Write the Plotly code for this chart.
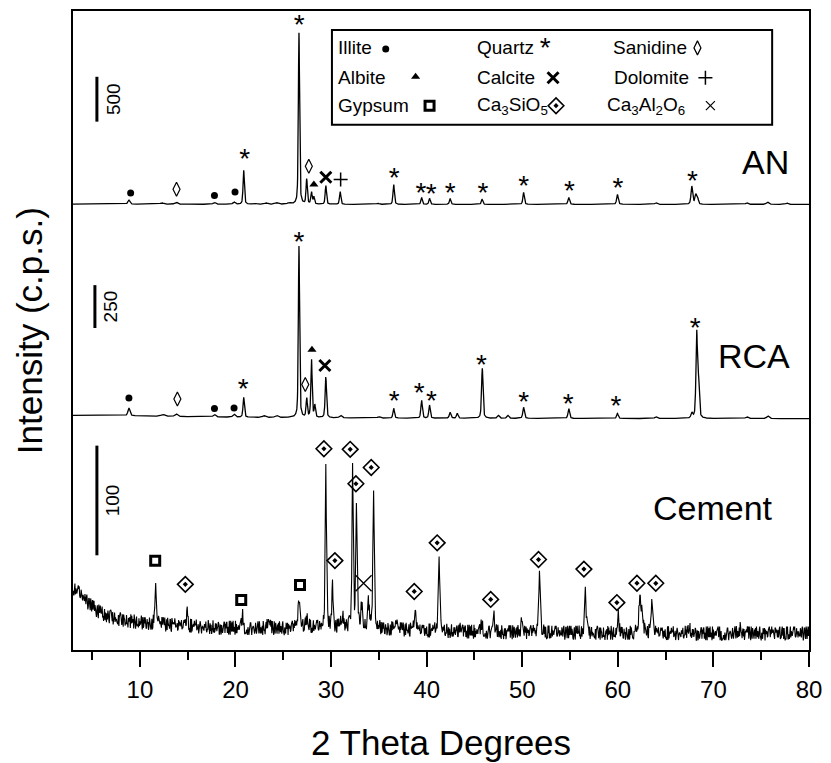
import numpy as np
import plotly.graph_objects as go

# ======================= DATA =======================
x_tick_values = [10, 20, 30, 40, 50, 60, 70, 80]
sample_names = ["AN", "RCA", "Cement"]
scale_bar_cps = [500, 250, 100]

# --- AN pattern: peak positions (deg 2theta), heights (c.p.s.), widths (deg)
an_peak_2theta = [8.85, 12.3, 13.8, 17.8, 19.85, 20.86, 22.0, 23.2, 24.3, 25.6, 26.64, 27.45, 27.95, 28.2,
                  29.45, 30.95, 34.9, 36.55, 39.47, 40.3, 42.45, 45.8, 50.14, 54.87, 59.96, 64.0, 67.74,
                  68.14, 68.32, 73.5, 75.66, 77.7]
an_peak_cps = [45, 15, 22, 20, 25, 378, 12, 15, 18, 14, 1911, 280, 133, 80,
               211, 144, 12, 222, 78, 67, 67, 56, 133, 78, 111, 18, 200,
               100, 80, 18, 25, 15]
an_peak_fwhm = [0.25, 0.4, 0.35, 0.3, 0.3, 0.16, 0.4, 0.4, 0.4, 0.4, 0.15, 0.16, 0.16, 0.16,
                0.16, 0.16, 0.3, 0.17, 0.17, 0.17, 0.17, 0.18, 0.18, 0.2, 0.2, 0.3, 0.2,
                0.2, 0.2, 0.3, 0.3, 0.3]
an_bg_2theta, an_bg_cps, an_bg_fwhm = [3.0], [4], [20]

# --- RCA pattern
rca_peak_2theta = [8.85, 12.4, 13.8, 17.8, 19.85, 20.86, 23.0, 24.3, 26.64, 27.45, 27.95, 28.3, 29.45,
                   31.0, 35.0, 36.55, 39.47, 40.3, 42.45, 43.2, 45.82, 47.5, 48.5, 50.14, 54.87, 59.96,
                   64.0, 67.74, 68.25, 68.45, 73.5, 75.7]
rca_peak_cps = [45, 10, 15, 14, 18, 116, 10, 12, 1000, 110, 340, 70, 240,
                15, 8, 58, 105, 76, 35, 29, 292, 17, 17, 64, 58, 29,
                10, 30, 500, 200, 10, 15]
rca_peak_fwhm = [0.25, 0.4, 0.35, 0.3, 0.3, 0.17, 0.4, 0.4, 0.15, 0.16, 0.16, 0.16, 0.17,
                 0.3, 0.3, 0.18, 0.18, 0.18, 0.2, 0.2, 0.18, 0.25, 0.25, 0.2, 0.2, 0.2,
                 0.3, 0.2, 0.18, 0.18, 0.3, 0.3]
rca_bg_2theta, rca_bg_cps, rca_bg_fwhm = [3.0], [20], [30]

# --- Cement pattern
cem_peak_2theta = [11.65, 14.95, 20.75, 23.4, 26.65, 27.5, 29.45, 30.15, 31.2, 32.25, 32.65, 33.2, 33.9,
                   34.45, 36.7, 38.8, 41.3, 43.5, 45.8, 47.0, 50.0, 51.8, 56.6, 60.05, 62.3, 62.55,
                   63.6, 67.4, 72.8]
cem_peak_cps = [42, 17, 11, 7, 22, 8, 148, 36, 10, 148, 115, 20, 24,
                124, 8, 19, 66, 6, 10, 18, 15, 53, 40, 15, 28, 15,
                28, 6, 4]
cem_peak_fwhm = [0.15, 0.15, 0.2, 0.3, 0.3, 0.3, 0.15, 0.15, 0.3, 0.15, 0.15, 0.2, 0.2,
                 0.18, 0.3, 0.2, 0.2, 0.3, 0.2, 0.2, 0.2, 0.18, 0.2, 0.2, 0.25, 0.25,
                 0.25, 0.3, 0.4]
cem_bg_2theta, cem_bg_cps, cem_bg_fwhm = [3.0, 3.0, 32.0], [30, 10, 4], [4, 30, 12]
# counting-noise texture of the cement scan, typed as digits 0-9
cem_noise_digits = (
    "1415926535897932384626433832795028841971693993751058209749445923078164062862"
    "0899862803482534211706798214808651328230664709384460955058223172535940812848"
    "1117450284102701938521105559644622948954930381964428810975665933446128475648"
    "2337867831652712019091456485669234603486104543266482133936072602491412737245"
    "8700660631558817488152092096282925409171536436789259036001133053054882046652"
    "1384146951941511609433057270365759591953092186117381932611793105118548074462"
    "3799627495673518857527248912279381830119491"
)
cem_noise_cps_per_digit = 1.4

# --- phase markers: (phase, peak 2theta)
an_marker_phase = ["illite", "sanidine", "illite", "illite", "quartz", "quartz", "sanidine", "albite",
                   "calcite", "dolomite", "quartz", "quartz", "quartz", "quartz", "quartz", "quartz",
                   "quartz", "quartz", "quartz"]
an_marker_2theta = [8.85, 13.8, 17.8, 19.85, 20.86, 26.64, 27.45, 27.95, 29.45, 30.95, 36.55, 39.47,
                    40.3, 42.45, 45.8, 50.14, 54.87, 59.96, 67.74]
rca_marker_phase = ["illite", "sanidine", "illite", "illite", "quartz", "quartz", "sanidine", "albite",
                    "calcite", "quartz", "quartz", "quartz", "quartz", "quartz", "quartz", "quartz",
                    "quartz"]
rca_marker_2theta = [8.85, 13.8, 17.8, 19.85, 20.86, 26.64, 27.45, 27.95, 29.45, 36.55, 39.47, 40.3,
                     45.82, 50.14, 54.87, 59.96, 68.25]
cem_marker_phase = ["gypsum", "c3s", "gypsum", "gypsum", "c3s", "c3s", "c3s", "c3s", "c3a", "c3s",
                    "c3s", "c3s", "c3s", "c3s", "c3s", "c3s", "c3s", "c3s"]
cem_marker_2theta = [11.65, 14.95, 20.75, 26.65, 29.45, 30.15, 32.25, 32.65, 33.2, 34.45, 38.8, 41.3,
                     47.0, 51.8, 56.6, 60.05, 62.3, 63.6]

# --- legend of phases
legend_phase = ["illite", "quartz", "sanidine", "albite", "calcite", "dolomite", "gypsum", "c3s", "c3a"]
legend_label = ["Illite", "Quartz", "Sanidine", "Albite", "Calcite", "Dolomite", "Gypsum",
                "Ca<sub>3</sub>SiO<sub>5</sub>", "Ca<sub>3</sub>Al<sub>2</sub>O<sub>6</sub>"]

# ======================= LAYOUT / STYLE =======================
FONT = "Liberation Sans, Arial, sans-serif"
W, H = 831, 763
PL, PR, PT, PB = 73, 812, 9, 650          # plot-area pixel box
X0, X1 = 3, 80
PXD = (PR - PL) / (X1 - X0)               # px per degree


def px2x(px):
    return X0 + (px - PL) / PXD


def py2y(py):
    return PB - py                        # y axis unit = 1 px


def pxp(px):
    return (px - PL) / (PR - PL)


def pyp(py):
    return (PB - py) / (PB - PT)


# vertical placement: baseline pixel and px per c.p.s. of each pattern
an_base_px, an_ppc = 203, 45 / 500
rca_base_px, rca_ppc = 418, 43 / 250
cem_base_px, cem_ppc = 634, 110 / 100

# marker placement offsets (dx in deg, gap in px above local peak top)
an_marker_dx = [0.18, 0.03, 0, 0.1, 0.1, 0.03, 0.22, 0.25, 0, 0.05, 0.05, -0.08, 0.18, 0, 0.1, 0, 0.08, 0.04, 0.06]
an_marker_gap = [7, 13, 7, 10, 15, 12, 12, 7, 8, 12, 10, 8, 8, 9, 10, 10, 10, 10, 9]
rca_marker_dx = [0, 0.12, 0, 0, -0.05, 0, -0.15, 0.05, -0.1, 0.05, -0.25, 0.2, -0.1, 0, -0.05, -0.15, -0.15]
rca_marker_gap = [10, 15, 6, 6, 12, 8, 13, 9, 11, 11, 11, 8, 7, 9, 9, 12, 5]
cem_marker_dx = [-0.05, -0.2, -0.15, 0.1, -0.2, 0.25, -0.25, -0.05, 0.2, -0.25, -0.1, -0.2, -0.3, -0.1,
                 -0.15, -0.15, -0.3, 0.37]
cem_marker_gap = [17, 23, 16, 19, 16, 26, 13, 14, 20, 24, 18, 16, 13, 15, 20, 14, 17, 19]

STAR_SHIFT = 6   # text "*" glyph sits above the text anchor point

phase_style = {
    "illite": dict(symbol="circle", size=7, line=dict(width=0)),
    "sanidine": dict(symbol="diamond-tall-open", size=10, line=dict(width=1.2, color="black")),
    "albite": dict(symbol="triangle-up", size=8, line=dict(width=0)),
    "calcite": dict(symbol="x-thin-open", size=11, line=dict(width=3, color="black")),
    "dolomite": dict(symbol="cross-thin-open", size=10, line=dict(width=1.5, color="black")),
    "gypsum": dict(symbol="square-open", size=9, line=dict(width=3, color="black")),
    "c3s": dict(symbol="diamond-open", size=12, line=dict(width=1.6, color="black")),
    "c3a": dict(symbol="x-thin-open", size=16, line=dict(width=1.3, color="black")),
}


def profile(x, pos, cps, fwhm, eta=0.5):
    x = np.asarray(x, dtype=float)
    y = np.zeros_like(x)
    for p, h, f in zip(pos, cps, fwhm):
        u = (x - p) / (f / 2.0)
        y += h * (eta / (1 + u ** 2) + (1 - eta) * np.exp(-np.log(2) * u ** 2))
    return y


def counts(x, pk, bg):
    return profile(x, *pk) + profile(x, *bg, eta=1.0)


an_pk = (an_peak_2theta, an_peak_cps, an_peak_fwhm)
an_bg = (an_bg_2theta, an_bg_cps, an_bg_fwhm)
rca_pk = (rca_peak_2theta, rca_peak_cps, rca_peak_fwhm)
rca_bg = (rca_bg_2theta, rca_bg_cps, rca_bg_fwhm)
cem_pk = (cem_peak_2theta, cem_peak_cps, cem_peak_fwhm)
cem_bg = (cem_bg_2theta, cem_bg_cps, cem_bg_fwhm)

xf = np.arange(X0, X1 + 1e-9, 0.02)
xc = np.arange(X0, X1 + 1e-9, 0.05)
digits = np.array([int(c) for c in cem_noise_digits])
cem_noise = (digits[np.arange(len(xc)) % len(digits)] - 4.5) * cem_noise_cps_per_digit

an_y = py2y(an_base_px) + counts(xf, an_pk, an_bg) * an_ppc
rca_y = py2y(rca_base_px) + counts(xf, rca_pk, rca_bg) * rca_ppc
cem_y = py2y(cem_base_px) + (counts(xc, cem_pk, cem_bg) + cem_noise) * cem_ppc

fig = go.Figure()
for xx, yy, lw in [(xf, an_y, 1.3), (xf, rca_y, 1.3), (xc, cem_y, 1.1)]:
    fig.add_trace(go.Scatter(x=xx, y=yy, mode="lines", line=dict(color="black", width=lw),
                             hoverinfo="skip"))


def add_marker(phase, x, y, small=False):
    if phase == "quartz":
        fig.add_trace(go.Scatter(x=[x], y=[y - STAR_SHIFT], mode="text", text=["*"],
                                 textposition="middle center",
                                 textfont=dict(size=28, family=FONT, color="black"),
                                 hoverinfo="skip"))
        return
    st = dict(phase_style[phase])
    if small and phase == "c3a":
        st = dict(symbol="x-thin-open", size=9, line=dict(width=1.2, color="black"))
    fig.add_trace(go.Scatter(x=[x], y=[y], mode="markers", marker=dict(color="black", **st),
                             hoverinfo="skip", cliponaxis=False))
    if phase == "c3s":
        fig.add_trace(go.Scatter(x=[x], y=[y], mode="markers",
                                 marker=dict(symbol="diamond", size=4, color="black"),
                                 hoverinfo="skip"))


for phases, tts, dxs, gaps, pk, bg, base, ppc in [
    (an_marker_phase, an_marker_2theta, an_marker_dx, an_marker_gap, an_pk, an_bg, an_base_px, an_ppc),
    (rca_marker_phase, rca_marker_2theta, rca_marker_dx, rca_marker_gap, rca_pk, rca_bg, rca_base_px, rca_ppc),
    (cem_marker_phase, cem_marker_2theta, cem_marker_dx, cem_marker_gap, cem_pk, cem_bg, cem_base_px, cem_ppc),
]:
    for ph, t, dx, g in zip(phases, tts, dxs, gaps):
        top = py2y(base) + counts([t], pk, bg)[0] * ppc
        add_marker(ph, t + dx, top + g)

# ---- scale bars
bar_x_px = [97, 95, 97]
bar_bottom_px = [120, 327, 555]
bar_ppc = [an_ppc, rca_ppc, cem_ppc]
annotations = []
for cps, bx, bb, ppc in zip(scale_bar_cps, bar_x_px, bar_bottom_px, bar_ppc):
    y0 = py2y(bb)
    y1 = y0 + cps * ppc
    fig.add_trace(go.Scatter(x=[px2x(bx), px2x(bx)], y=[y0, y1], mode="lines",
                             line=dict(color="black", width=3), hoverinfo="skip"))
    annotations.append(dict(x=px2x(bx + 16), y=(y0 + y1) / 2, text=str(cps), textangle=-90,
                            showarrow=False, font=dict(size=19, family=FONT, color="black"),
                            xanchor="center", yanchor="middle"))

# ---- sample labels
for name, (cx, cy) in zip(sample_names, [(768, 160), (757, 355), (716, 508)]):
    annotations.append(dict(x=px2x(cx), y=py2y(cy), text=name, showarrow=False,
                            font=dict(size=34, family=FONT, color="black"),
                            xanchor="center", yanchor="middle"))

# ---- phase legend box
legend_text_px = [(337, 46), (477, 46), (613, 46), (337, 76), (477, 76), (614, 76),
                  (337, 104), (477, 104), (607, 104)]
legend_sym_px = [(387, 47), (547, 42), (700, 46), (417, 75), (555, 76), (708, 76),
                 (431, 104), (558, 104), (713, 104)]
for lab, (tx, ty) in zip(legend_label, legend_text_px):
    annotations.append(dict(x=px2x(tx), y=py2y(ty), text=lab, showarrow=False,
                            font=dict(size=19, family=FONT, color="black"),
                            xanchor="left", yanchor="middle"))
for ph, (sx, sy) in zip(legend_phase, legend_sym_px):
    add_marker(ph, px2x(sx), py2y(sy), small=True)

# ---- axis titles
annotations.append(dict(x=pxp(0.5 * (PL + PR)), y=pyp(743), xref="paper", yref="paper",
                        text="2 Theta Degrees", showarrow=False,
                        font=dict(size=35, family=FONT, color="black"),
                        xanchor="center", yanchor="middle"))
annotations.append(dict(x=pxp(30), y=pyp(330), xref="paper", yref="paper",
                        text="Intensity (c.p.s.)", textangle=-90, showarrow=False,
                        font=dict(size=35, family=FONT, color="black"),
                        xanchor="center", yanchor="middle"))

shapes = [dict(type="rect", xref="x", yref="y", x0=px2x(333), x1=px2x(775), y0=py2y(28), y1=py2y(123),
               line=dict(color="black", width=2), fillcolor="rgba(0,0,0,0)")]

fig.update_layout(
    width=W, height=H, showlegend=False,
    margin=dict(l=PL, r=W - PR, t=PT, b=H - PB, pad=0),
    plot_bgcolor="white", paper_bgcolor="white",
    annotations=annotations, shapes=shapes,
    xaxis=dict(range=[X0, X1], tickvals=x_tick_values, ticks="outside", ticklen=15, tickwidth=2,
               tickcolor="black", showline=True, linewidth=2, linecolor="black", mirror=True,
               showgrid=False, zeroline=False, ticklabelstandoff=2,
               tickfont=dict(size=24, family=FONT, color="black"),
               minor=dict(tickvals=[5, 15, 25, 35, 45, 55, 65, 75], ticks="outside", ticklen=8,
                          tickwidth=2, tickcolor="black", showgrid=False)),
    yaxis=dict(range=[0, PB - PT], showticklabels=False, ticks="", showline=True, linewidth=2,
               linecolor="black", mirror=True, showgrid=False, zeroline=False),
)

fig.write_html("out.html")
